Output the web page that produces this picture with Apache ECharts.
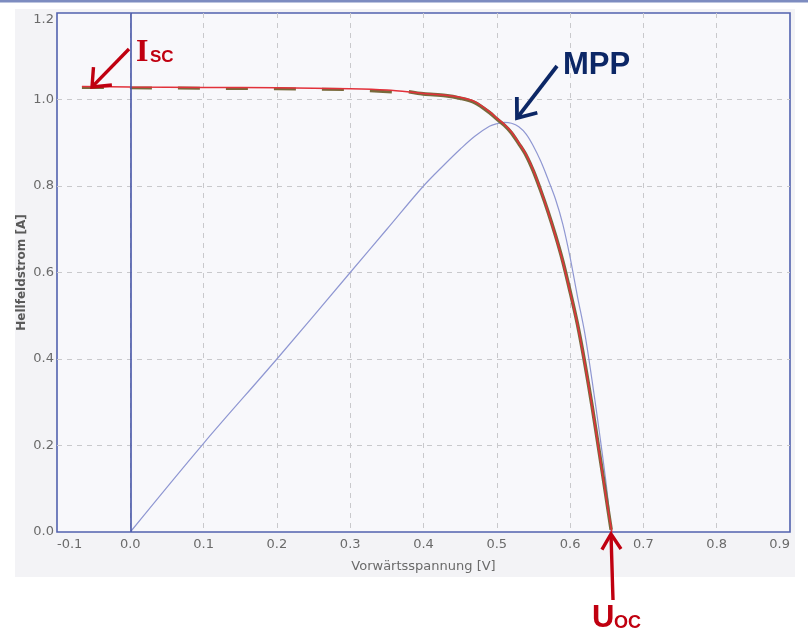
<!DOCTYPE html>
<html>
<head>
<meta charset="utf-8">
<script src="https://cdn.jsdelivr.net/npm/echarts@6/dist/echarts.min.js"></script>
<style>
html,body{margin:0;padding:0;background:#ffffff;}
#chart{width:808px;height:639px;}
</style>
</head>
<body>
<div id="chart"></div>
<script>
// I-V characteristic (red)
const ivVolt = [-0.066, 0.0, 0.1, 0.2, 0.3, 0.35, 0.4, 0.43, 0.45, 0.47, 0.49, 0.50, 0.51, 0.52, 0.53, 0.54, 0.55, 0.56, 0.57, 0.58, 0.59, 0.60, 0.61, 0.62, 0.63, 0.64, 0.65, 0.657];
const ivCurrent = [1.030, 1.029, 1.028, 1.027, 1.025, 1.022, 1.014, 1.010, 1.005, 0.995, 0.972, 0.957, 0.943, 0.925, 0.900, 0.873, 0.836, 0.790, 0.740, 0.685, 0.625, 0.555, 0.480, 0.390, 0.290, 0.180, 0.070, 0.0];
// measured points (olive), flat part and knee part
const measFlatVolt = [-0.066, 0.0, 0.1, 0.2, 0.3, 0.4];
const measFlatCurrent = [1.028, 1.027, 1.026, 1.025, 1.023, 1.013];
const measKneeVolt = [0.38, 0.4, 0.43, 0.45, 0.47, 0.49, 0.50, 0.51, 0.52, 0.53, 0.54, 0.55, 0.56, 0.57, 0.58, 0.59, 0.60, 0.61, 0.62, 0.63, 0.64, 0.65, 0.656];
const measKneeCurrent = [1.018, 1.013, 1.009, 1.003, 0.993, 0.970, 0.955, 0.941, 0.923, 0.898, 0.871, 0.834, 0.789, 0.740, 0.686, 0.626, 0.556, 0.481, 0.391, 0.291, 0.182, 0.072, 0.005];
// power curve (blue, scaled)
const powVolt = [0.0, 0.1, 0.2, 0.3, 0.35, 0.4, 0.43, 0.45, 0.47, 0.49, 0.50, 0.51, 0.52, 0.53, 0.54, 0.55, 0.56, 0.57, 0.58, 0.59, 0.60, 0.61, 0.62, 0.63, 0.64, 0.65, 0.656];
const powValue = [0.0, 0.205, 0.400, 0.600, 0.700, 0.800, 0.852, 0.885, 0.915, 0.938, 0.944, 0.947, 0.945, 0.937, 0.920, 0.892, 0.857, 0.815, 0.770, 0.712, 0.635, 0.545, 0.460, 0.350, 0.230, 0.100, 0.0];
// axes
const xMin = -0.1, xMax = 0.9, xStep = 0.1;
const yMin = 0.0, yMax = 1.2, yStep = 0.2;
const xName = 'Vorwärtsspannung [V]';
const yName = 'Hellfeldstrom [A]';

function pairs(xs, ys){ return xs.map((x,i)=>[x, ys[i]]); }

const chart = echarts.init(document.getElementById('chart'), null, {renderer:'canvas'});

const RED = '#c00010';
const NAVY = '#0c2766';

function arrow(x1,y1,x2,y2,color,w,armLen,ang){
  const dx = x1-x2, dy = y1-y2, L = Math.hypot(dx,dy);
  const ux = dx/L, uy = dy/L;
  const a = ang*Math.PI/180;
  const r1 = [x2 + armLen*(ux*Math.cos(a) - uy*Math.sin(a)), y2 + armLen*(ux*Math.sin(a) + uy*Math.cos(a))];
  const r2 = [x2 + armLen*(ux*Math.cos(-a) - uy*Math.sin(-a)), y2 + armLen*(ux*Math.sin(-a) + uy*Math.cos(-a))];
  return [
    {type:'line', shape:{x1:x1,y1:y1,x2:x2+ux*1.5,y2:y2+uy*1.5}, style:{stroke:color,lineWidth:w,lineCap:'butt'}, z:100},
    {type:'polyline', shape:{points:[r1,[x2,y2],r2]}, style:{stroke:color,lineWidth:w,fill:null,lineJoin:'miter',lineCap:'butt'}, z:100}
  ];
}

const splitStyle = {show:true, showMinLine:false, showMaxLine:false, lineStyle:{color:'#c9c9cc', type:[5,5], width:1}};

const option = {
  backgroundColor: '#ffffff',
  animation: false,
  grid: {left:57, right:18, top:13, bottom:107, show:true, backgroundColor:'#f8f8fb', borderColor:'#5262ae', borderWidth:1.6},
  xAxis: {
    type:'value', min:xMin, max:xMax, interval:xStep,
    name:xName, nameLocation:'middle', nameGap:28, nameMoveOverlap:false,
    nameTextStyle:{color:'#6a6a6a', fontSize:13, fontFamily:'DejaVu Sans'},
    axisLine:{show:false}, axisTick:{show:false},
    axisLabel:{color:'#6a6a6a', fontSize:13, fontFamily:'DejaVu Sans', margin:6,
      formatter:(v)=>v.toFixed(1), alignMinLabel:'left', alignMaxLabel:'right'},
    splitLine:splitStyle
  },
  yAxis: {
    type:'value', min:yMin, max:yMax, interval:yStep,
    name:yName, nameLocation:'middle', nameGap:29, nameRotate:90, nameMoveOverlap:false,
    nameTextStyle:{color:'#5a5a5a', fontSize:12, fontWeight:'bold', fontFamily:'DejaVu Sans'},
    axisLine:{show:false}, axisTick:{show:false},
    axisLabel:{color:'#6a6a6a', fontSize:13, fontFamily:'DejaVu Sans', margin:3,
      formatter:(v)=>v.toFixed(1), verticalAlignMaxLabel:'top'},
    splitLine:splitStyle
  },
  series: [
    {type:'line', name:'Leistung', data:pairs(powVolt, powValue), showSymbol:false, symbol:'none', smooth:0.35,
      lineStyle:{color:'#8f97d2', width:1.2}, z:2,
      markLine:{silent:true, symbol:'none', label:{show:false},
        lineStyle:{color:'#4655a8', width:1.6, type:'solid'}, data:[{xAxis:0}]}},
    {type:'line', name:'Messung', data:pairs(measFlatVolt, measFlatCurrent), showSymbol:false, symbol:'none',
      lineStyle:{color:'#786a3c', width:3, type:[22,26]}, z:3},
    {type:'line', name:'Messung2', data:pairs(measKneeVolt, measKneeCurrent), showSymbol:false, symbol:'none', smooth:0.3,
      lineStyle:{color:'#786a3c', width:3.6}, z:3},
    {type:'line', name:'Kennlinie', data:pairs(ivVolt, ivCurrent), showSymbol:false, symbol:'none', smooth:0.3,
      lineStyle:{color:'#e2313a', width:1.5}, z:4}
  ]
};
chart.setOption(option);

const graphics = [
  {type:'rect', shape:{x:15,y:9,width:780,height:568}, style:{fill:'#f3f3f6'}, z:-10, silent:true},
  {type:'rect', shape:{x:0,y:0,width:808,height:2.5}, style:{fill:'#7d8cc0'}, z:-9, silent:true},
  {type:'text', x:136, y:37, style:{text:'I', font:'bold 32px "Liberation Serif"', fill:RED}, z:100},
  {type:'text', x:150, y:49, style:{text:'SC', font:'bold 17px "Liberation Sans"', fill:RED}, z:100},
  {type:'text', x:563, y:50, style:{text:'MPP', font:'bold 31px "Liberation Sans"', fill:NAVY}, z:100},
  {type:'text', x:592, y:603, style:{text:'U', font:'bold 31px "Liberation Sans"', fill:RED}, z:100},
  {type:'text', x:614, y:614, style:{text:'OC', font:'bold 18px "Liberation Sans"', fill:RED}, z:100}
]
.concat(arrow(129,49, 92,87, RED, 3.4, 20, 40))
.concat(arrow(557,66, 517,118, NAVY, 3.8, 21, 38))
.concat(arrow(613,600, 611,534, RED, 3.4, 18, 32));

chart.setOption({graphic: graphics});
</script>
</body>
</html>
